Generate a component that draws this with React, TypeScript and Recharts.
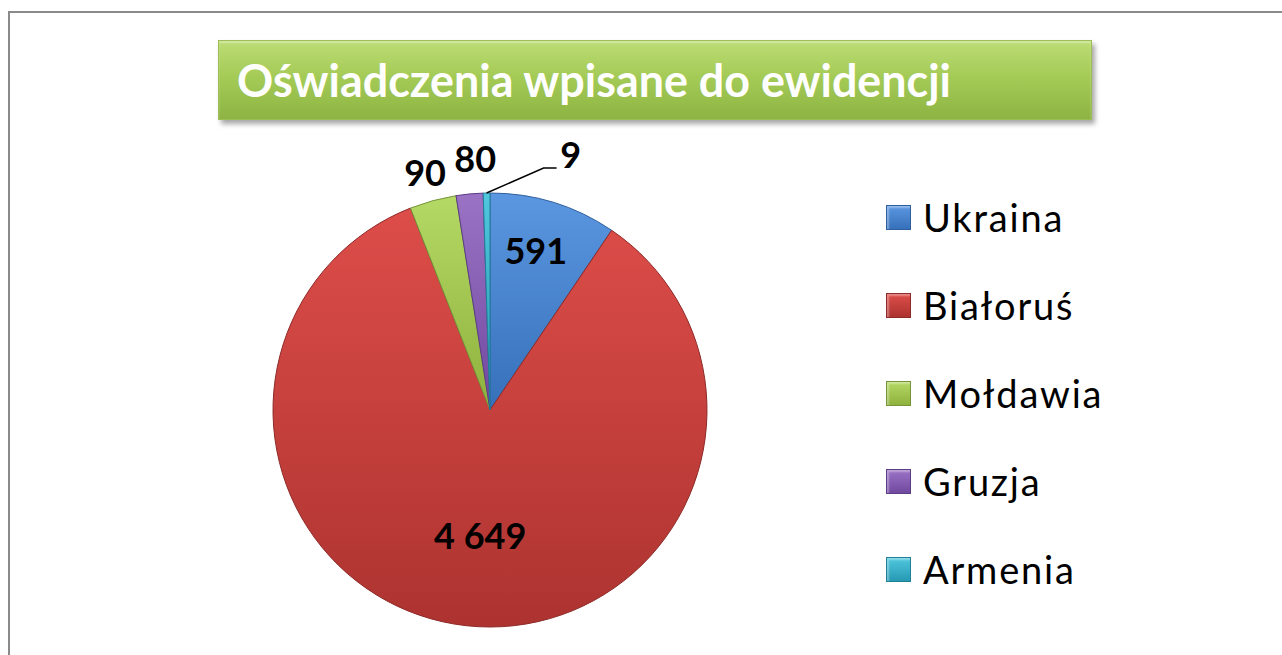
import { Legend, Pie, PieChart } from "recharts";

const countries = ["Ukraina", "Białoruś", "Mołdawia", "Gruzja", "Armenia"];
// printed numbers on the slices
const countLabels = ["591", "4 649", "90", "80", "9"];
// slice sizes as drawn in the picture (degrees of the circle)
const sliceDegrees = [34.1, 304.4, 12.5, 7.2, 1.8];

const chartTitle = "Oświadczenia wpisane do ewidencji";

// top / bottom / outline of each slice
const palette = [
  ["#5B97E0", "#3670BA", "#2F5F9E"],
  ["#DD4D49", "#AD3330", "#8E2A28"],
  ["#B4D964", "#8FB13D", "#76943A"],
  ["#9B73C5", "#7049A0", "#5C3C85"],
  ["#50C7DE", "#2699B3", "#1F7F95"],
];

// where each value label sits: share of radius + small nudge
const LABEL_RADIUS = [0.767, 0.578, 1.137, 1.168, 1.0];
const LABEL_NUDGE = [[-3, -1], [4, 0], [0, 0], [9, 0], [0, 0]];

const RAD = Math.PI / 180;
const labelFont = { fontFamily: "Lato, 'Noto Sans', sans-serif", fontWeight: 700, fontSize: 36 };

const data = countries.map((name, i) => ({
  name,
  value: sliceDegrees[i],
  fill: `url(#slice${i})`,
  stroke: palette[i][2],
}));

function renderLabel(props: any) {
  const { cx, cy, midAngle, outerRadius, index } = props;
  const cos = Math.cos(-midAngle * RAD);
  const sin = Math.sin(-midAngle * RAD);
  if (index === 4) {
    const sx = cx + outerRadius * cos;
    const sy = cy + outerRadius * sin;
    const mx = sx + 57;
    const my = sy - 25;
    const ex = mx + 13;
    return (
      <g>
        <path d={`M${sx},${sy} L${mx},${my} L${ex},${my}`} stroke="#000" strokeWidth={1.5} fill="none" />
        <text x={ex + 14} y={my - 14} textAnchor="middle" dominantBaseline="central" fill="#000" style={labelFont}>
          {countLabels[index]}
        </text>
      </g>
    );
  }
  const r = outerRadius * LABEL_RADIUS[index];
  const x = cx + r * cos + LABEL_NUDGE[index][0];
  const y = cy + r * sin + LABEL_NUDGE[index][1];
  return (
    <text x={x} y={y} textAnchor="middle" dominantBaseline="central" fill="#000" style={labelFont}>
      {countLabels[index]}
    </text>
  );
}

function renderLegend() {
  return (
    <div style={{ fontFamily: "Lato, 'Noto Sans', sans-serif", fontSize: 38, letterSpacing: 1.8, color: "#000" }}>
      {countries.map((name, i) => (
        <div key={name} style={{ height: 88, display: "flex", alignItems: "center" }}>
          <div
            style={{
              width: 23,
              height: 23,
              marginRight: 12,
              background: `linear-gradient(180deg, ${palette[i][0]}, ${palette[i][1]})`,
              border: `1px solid ${palette[i][2]}`,
              boxShadow: "inset 2px 2px 2px rgba(255,255,255,0.35)",
            }}
          />
          <span>{name}</span>
        </div>
      ))}
    </div>
  );
}

export default function App() {
  return (
    <div style={{ position: "fixed", left: 0, top: 0, width: 1282, height: 655, overflow: "hidden", background: "#fff" }}>
      <div
        style={{
          position: "absolute",
          left: 8,
          top: 11,
          width: 1320,
          height: 720,
          border: "2px solid #8a8a8a",
        }}
      />
      <div style={{ position: "absolute", left: 0, top: 0 }}>
        <PieChart width={1282} height={655} margin={{ top: 0, right: 0, bottom: 0, left: 0 }}>
          <defs>
            {palette.map((c, i) => (
              <linearGradient key={i} id={`slice${i}`} x1="0" y1="0" x2="0" y2="1">
                <stop offset="0%" stopColor={c[0]} />
                <stop offset="100%" stopColor={c[1]} />
              </linearGradient>
            ))}
          </defs>
          <Pie
            data={data}
            dataKey="value"
            nameKey="name"
            cx={490}
            cy={410}
            outerRadius={217}
            startAngle={90}
            endAngle={-270}
            strokeWidth={1}
            label={renderLabel}
            labelLine={false}
            isAnimationActive={false}
          />
          <Legend
            layout="vertical"
            align="right"
            verticalAlign="top"
            content={renderLegend}
            wrapperStyle={{ left: 886, top: 173, width: 320 }}
          />
        </PieChart>
      </div>
      <div
        style={{
          position: "absolute",
          left: 218,
          top: 40,
          width: 872,
          height: 78,
          background: "linear-gradient(180deg, #BCDC74 0%, #A5CB57 45%, #8DB343 100%)",
          border: "1px solid #9DBE55",
          boxShadow: "3px 4px 5px rgba(0,0,0,0.35), inset 0 2px 2px rgba(255,255,255,0.35)",
        }}
      >
        <svg width={872} height={78} style={{ display: "block" }}>
          <text
            x={18}
            y={56}
            textLength={714}
            lengthAdjust="spacingAndGlyphs"
            fill="#fff"
            style={{ fontFamily: "Lato, 'Noto Sans', sans-serif", fontWeight: 700, fontSize: 45 }}
          >
            {chartTitle}
          </text>
        </svg>
      </div>
    </div>
  );
}
